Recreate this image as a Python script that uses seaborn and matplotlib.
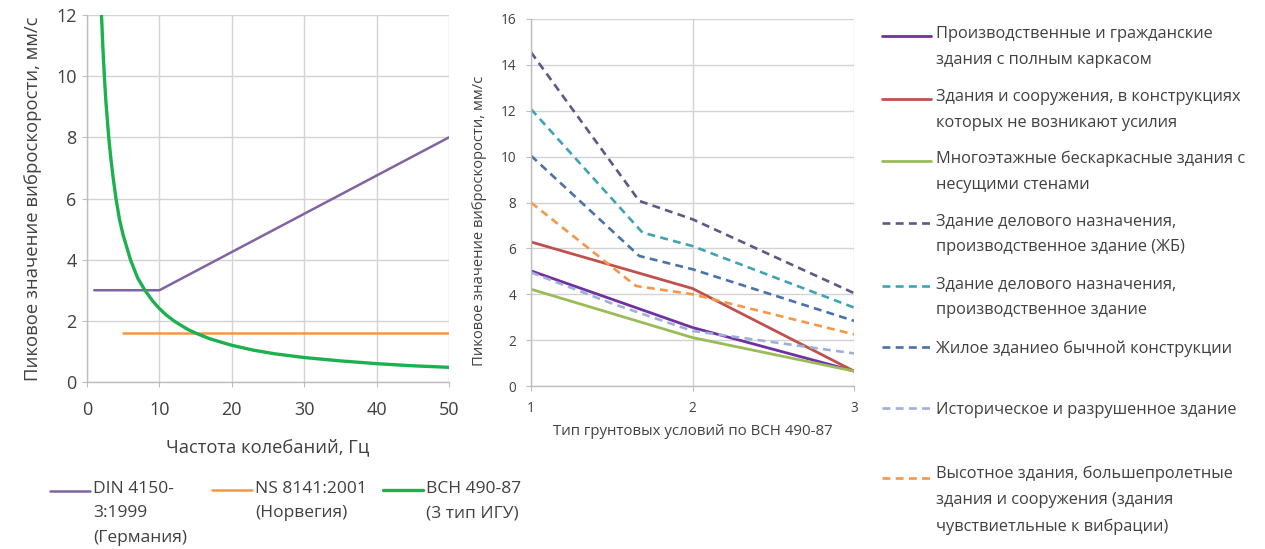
import numpy as np
import matplotlib
matplotlib.use("Agg")
import matplotlib.pyplot as plt
import seaborn as sns
from matplotlib.legend_handler import HandlerLine2D

# ---------------- data: left chart ----------------
din_f = [1, 10, 50]
din_v = [3, 3, 8]
ns_f = [5, 50]
ns_v = [1.6, 1.6]
vsn_f = [2, 2.2, 2.4, 2.6, 2.8, 3, 3.3, 3.6, 4, 4.5, 5, 5.5, 6, 6.5, 7, 7.5, 8, 9, 10,
         11, 12, 13, 14, 15, 17, 20, 23, 26, 30, 35, 40, 45, 50]
vsn_v = [12, 10.9, 10, 9.2, 8.6, 8, 7.3, 6.7, 6, 5.3, 4.8, 4.4, 4, 3.7, 3.4, 3.2, 3,
         2.67, 2.4, 2.18, 2, 1.85, 1.71, 1.6, 1.41, 1.2, 1.04, 0.92, 0.8, 0.69, 0.6,
         0.53, 0.48]

left_labels = ["DIN 4150-\n3:1999\n(Германия)", "NS 8141:2001\n(Норвегия)", "ВСН 490-87\n(3 тип ИГУ)"]

# ---------------- data: right chart ----------------
s1_x = [1, 2, 3]; s1_y = [5.02, 2.55, 0.65]
s2_x = [1, 2, 3]; s2_y = [6.28, 4.25, 0.65]
s3_x = [1, 2, 3]; s3_y = [4.22, 2.11, 0.65]
s4_x = [1, 1.67, 2, 3]; s4_y = [14.55, 8.07, 7.27, 4.05]
s5_x = [1, 1.69, 2, 3]; s5_y = [12.07, 6.69, 6.1, 3.42]
s6_x = [1, 1.67, 2, 3]; s6_y = [10.04, 5.67, 5.09, 2.84]
s7_x = [1, 1.5, 2, 3]; s7_y = [4.95, 3.6, 2.4, 1.42]
s8_x = [1, 1.65, 2, 3]; s8_y = [8.0, 4.36, 4.0, 2.25]

right_labels = [
    "Производственные и гражданские\nздания с полным каркасом",
    "Здания и сооружения, в конструкциях\nкоторых не возникают усилия",
    "Многоэтажные бескаркасные здания с\nнесущими стенами",
    "Здание делового назначения,\nпроизводственное здание (ЖБ)",
    "Здание делового назначения,\nпроизводственное здание",
    "Жилое зданиео бычной конструкции",
    "Историческое и разрушенное здание",
    "Высотное здания, большепролетные\nздания и сооружения (здания\nчувствиетльные к вибрации)",
]

sns.set_theme(style="white")
plt.rcParams["font.family"] = ["Open Sans", "DejaVu Sans"]

GRID = "#D3D3D3"
SPINE = "#BDBDBD"
TXT = "#404040"

W, H = 1265, 549
fig = plt.figure(figsize=(W / 100, H / 100), dpi=100)

def px_axes(x0, x1, y0, y1):
    return fig.add_axes([x0 / W, 1 - y1 / H, (x1 - x0) / W, (y1 - y0) / H])

axL = px_axes(87, 449, 15, 382)
axR = px_axes(531, 854, 19, 386)

# left chart lines
sns.lineplot(x=din_f, y=din_v, ax=axL, color="#8064A2", lw=1.8)
sns.lineplot(x=ns_f, y=ns_v, ax=axL, color="#F79646", lw=1.8)
sns.lineplot(x=vsn_f, y=vsn_v, ax=axL, color="#1DB04F", lw=2.4)

axL.set_xlim(0, 50)
axL.set_ylim(0, 12)
axL.set_xticks(range(0, 51, 10))
axL.set_yticks(range(0, 13, 2))

# right chart lines
solid = [(s1_x, s1_y, "#7030A0"), (s2_x, s2_y, "#C0504D"), (s3_x, s3_y, "#9BBB59")]
dashed = [(s4_x, s4_y, "#5B5A86"), (s5_x, s5_y, "#3FA3B5"), (s6_x, s6_y, "#4A72A8"),
          (s7_x, s7_y, "#9DB0D8"), (s8_x, s8_y, "#F79646")]
for x, y, c in solid:
    sns.lineplot(x=x, y=y, ax=axR, color=c, lw=2.0)
for x, y, c in dashed:
    sns.lineplot(x=x, y=y, ax=axR, color=c, lw=1.9, linestyle=(0, (3, 2)))

axR.set_xlim(1, 3)
axR.set_ylim(0, 16)
axR.set_xticks([1, 2, 3])
axR.set_yticks(range(0, 17, 2))

for ax, fs in ((axL, 13), (axR, 9.8)):
    ax.grid(True, color=GRID, lw=1.0)
    ax.set_axisbelow(True)
    for s in ("top", "right"):
        ax.spines[s].set_visible(False)
    for s in ("left", "bottom"):
        ax.spines[s].set_color(SPINE)
        ax.spines[s].set_linewidth(1.0)
    ax.tick_params(axis="both", direction="out", length=3.5, width=0.8, color=SPINE,
                   labelsize=fs, labelcolor=TXT, left=True, bottom=True)

axL.tick_params(axis="x", pad=10)
axL.tick_params(axis="y", pad=4)
axR.tick_params(axis="x", pad=7)
axR.tick_params(axis="y", pad=7)

axL.set_xlabel("Частота колебаний, Гц", fontsize=13.2, color=TXT, labelpad=14)
axL.set_ylabel("Пиковое значение виброскорости, мм/с", fontsize=13.3, color=TXT, labelpad=10)
axR.set_xlabel("Тип грунтовых условий по ВСН 490-87", fontsize=10.8, color=TXT, labelpad=6)
axR.set_ylabel("Пиковое значение виброскорости, мм/с", fontsize=10.6, color=TXT)
axR.yaxis.set_label_coords(-0.135, 0.45)


class TopLineHandler(HandlerLine2D):
    """Place the legend line next to the first text line."""
    def __init__(self, nlines, pitch_pt, **kw):
        super().__init__(**kw)
        self.nlines = nlines
        self.pitch_pt = pitch_pt

    def create_artists(self, legend, orig_handle, xdescent, ydescent, width, height,
                       fontsize, trans):
        arts = super().create_artists(legend, orig_handle, xdescent, ydescent, width,
                                      height, fontsize, trans)
        off = (self.nlines - 1) / 2 * self.pitch_pt
        for a in arts:
            a.set_ydata(np.asarray(a.get_ydata()) + off)
        return arts


def add_entry(handle, label, x_px, y_first_px, fs, hl_px, gap_px, pitch_px):
    n = label.count("\n") + 1
    fs_px = fs / 0.72
    top_px = y_first_px - 0.42 * fs_px
    leg = fig.legend([handle], [label], loc="upper left",
                     bbox_to_anchor=(x_px / W, 1 - top_px / H),
                     bbox_transform=fig.transFigure, frameon=False,
                     fontsize=fs, borderpad=0, borderaxespad=0,
                     handlelength=hl_px * 0.72 / fs, handletextpad=gap_px * 0.72 / fs,
                     handler_map={handle: TopLineHandler(n, pitch_px * 0.72)})
    asc = 0.76 * fs_px
    for t in leg.get_texts():
        t.set_color(TXT)
        t.set_linespacing(pitch_px / asc)
    return leg


left_handles = axL.get_lines()[:3]
for h, lab, x in zip(left_handles, left_labels, [50, 212, 383]):
    add_entry(h, lab, x, 488, 12.5, 40, 3, 22.5)

right_handles = axR.get_lines()[:8]
right_y = [33, 96, 158, 220, 283, 347, 409, 473]
for h, lab, y in zip(right_handles, right_labels, right_y):
    add_entry(h, lab, 882, y, 11.8, 49, 5, 22.5)

fig.savefig("out.png", dpi=100)
